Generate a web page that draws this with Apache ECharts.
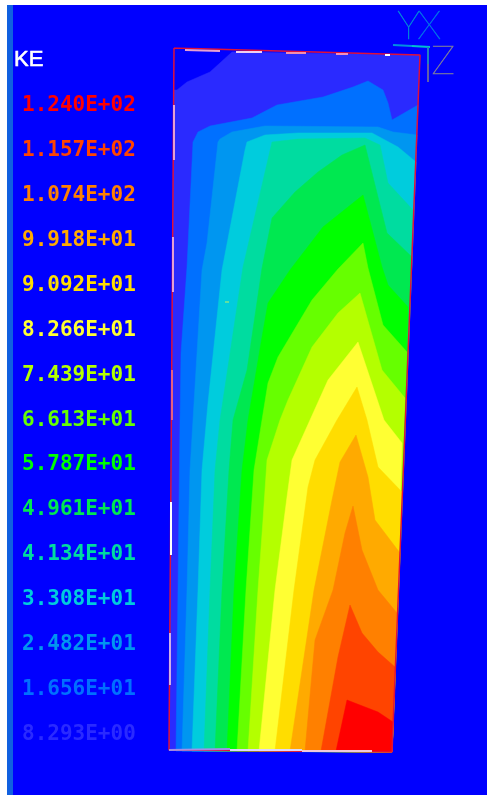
<!DOCTYPE html>
<html><head><meta charset="utf-8">
<style>
html,body{margin:0;padding:0;background:#fff;overflow:hidden}
#bg{position:absolute;left:7px;top:5px;width:480px;height:790px;box-sizing:border-box;background:#0000ff;border-left:6px solid #1060e0}
#c{position:absolute;left:0;top:0;width:487px;height:795px;filter:blur(0.5px)}
</style>
<script src="https://cdn.jsdelivr.net/npm/echarts@6/dist/echarts.min.js"></script>
</head><body><div id="bg"></div><div id="c"></div>
<script>
// Colour-key tick labels, highest first
const tickLabels=['1.240E+02','1.157E+02','1.074E+02','9.918E+01','9.092E+01','8.266E+01','7.439E+01','6.613E+01','5.787E+01','4.961E+01','4.134E+01','3.308E+01','2.482E+01','1.656E+01','8.293E+00'];
const tickColors=['#ff0000','#ff4400','#ff8000','#ffaa00','#ffdd00','#ffff33','#b4ff00','#66ff00','#00ff00','#00e850','#00dca0','#00ccdd','#0096f0','#0070ff','#2a2aff'];
// Mesh outline
const outline=[[174,48],[420,55],[392,752],[169,750]];
// Contour boundaries KE = level (right edge -> apex -> bottom edge)
const c008=[[177,90],[187,82],[210,72],[232,52],[420,55],[392,752],[169,750],[174,90]];
const c016=[[418,105],[392,120],[388,103],[383,90],[368,81],[353,87],[323,97],[277,105],[252,118],[210,126],[198,132],[193,142],[187,267],[181,353],[180,420],[178,587],[176,751]];
const c024=[[417,135],[393,132],[378,127],[265,126],[232,132],[220,139],[218,142],[207,243],[202,270],[193,420],[190,470],[187,590],[182,751]];
const c033=[[416,162],[398,147],[372,133],[298,133],[265,135],[247,142],[245,150],[222,270],[208,403],[202,470],[198,590],[192,751]];
const c041=[[413,210],[388,183],[380,145],[365,138],[298,139],[272,142],[243,267],[220,420],[215,470],[210,590],[204,751]];
const c049=[[412,257],[387,233],[365,145],[342,155],[318,172],[295,192],[272,218],[262,268],[247,370],[233,420],[229,470],[222,590],[215,751]];
const c057=[[408,307],[388,285],[382,267],[363,195],[323,227],[290,270],[268,303],[262,337],[248,420],[242,470],[234,590],[227,751]];
const c066=[[407,352],[383,325],[368,268],[363,243],[338,269],[312,300],[278,357],[268,383],[262,420],[254,470],[246,590],[237,751]];
const c074=[[405,398],[382,370],[360,293],[338,313],[312,347],[288,400],[280,420],[267,460],[263,520],[258,590],[248,751]];
const c082=[[402,443],[384,420],[358,342],[328,380],[310,420],[292,460],[287,497],[275,590],[259,751]];
const c090=[[402,492],[378,467],[367,420],[357,387],[337,420],[315,460],[308,487],[294,590],[275,751]];
const c099=[[400,553],[375,520],[368,477],[356,435],[340,462],[332,500],[314,590],[290,751]];
const c107=[[397,613],[378,590],[362,550],[353,506],[345,533],[333,590],[315,640],[305,751]];
const c115=[[395,667],[378,652],[362,633],[350,605],[338,657],[321,751]];
const c124=[[393,722],[378,712],[365,707],[347,700],[336,751]];
const contours=[c008,c016,c024,c033,c041,c049,c057,c066,c074,c082,c090,c099,c107,c115,c124];
const bandColors=tickColors.slice().reverse();
// Pale highlighted mesh edge pieces
const edgeMarks=[
 [[185,50],[220,51]],[[236,52],[262,52]],[[286,53],[306,53]],[[336,54],[348,54]],[[385,55],[390,55]],
 [[174,105],[174,160]],[[173,237],[173,292]],[[172,370],[172,420]],[[171,502],[171,555]],[[170,633],[170,685]],
 [[169,750],[230,749]],[[230,750],[302,750]],[[302,751],[372,751]],[[225,302],[229,302]]
];
const edgeColors=['#e8a0d0','#f0d0f0','#f090b0','#f090c0','#ffffff','#e8a0d0','#e8a0d0','#e86080','#ffffff','#d0b0e8','#a090e8','#e0d8f8','#f0c8d8','#60e0a0'];
// Result-triad strokes
const triad=[
 {p:[[393,45],[412,46]],c:'#0090e0'},{p:[[412,46],[430,47]],c:'#00c0d0'},
 {p:[[428,47],[428,64]],c:'#2080c0'},{p:[[428,64],[428,82]],c:'#6060a8'}
];

const option={
 animation:false,
 title:{text:'KE',left:14,top:49,padding:0,textStyle:{color:'#fff',fontFamily:'Liberation Sans',fontSize:22,fontWeight:'normal',textBorderColor:'#fff',textBorderWidth:0.6}},
 grid:[
  {left:169,top:48,right:67,bottom:43,show:false},
  {left:22,top:83.6,width:130,height:673,show:false}
 ],
 xAxis:[
  {gridIndex:0,type:'value',min:169,max:420,show:false},
  {gridIndex:1,type:'value',min:0,max:1,show:false}
 ],
 yAxis:[
  {gridIndex:0,type:'value',min:48,max:752,inverse:true,show:false},
  {gridIndex:1,type:'category',data:tickLabels,inverse:true,axisLine:{show:false},axisTick:{show:false},
   axisLabel:{inside:true,margin:0,align:'left',fontFamily:'DejaVu Sans Mono',fontWeight:'bold',fontSize:21,color:(v,i)=>tickColors[i]}}
 ],
 series:[
  {type:'custom',coordinateSystem:'cartesian2d',xAxisIndex:0,yAxisIndex:0,clip:false,silent:true,
   data:contours.map((c,i)=>[i]),encode:{x:-1,y:-1},
   renderItem:(params,api)=>{
     const i=params.dataIndex;
     const pts=i===0?contours[0]:contours[i].concat([[392,752]]);
     return {type:'polygon',shape:{points:pts.map(p=>api.coord(p))},style:{fill:bandColors[i],stroke:bandColors[i],lineWidth:0.5}};
   }},
  {type:'line',xAxisIndex:0,yAxisIndex:0,data:outline.concat([outline[0]]),symbol:'none',silent:true,z:5,
   lineStyle:{color:'#e0103a',width:1.5}},
  {type:'custom',coordinateSystem:'cartesian2d',xAxisIndex:0,yAxisIndex:0,clip:false,silent:true,z:6,
   data:edgeMarks.map((m,i)=>[i]),encode:{x:-1,y:-1},
   renderItem:(params,api)=>{
     const m=edgeMarks[params.dataIndex];
     return {type:'polyline',shape:{points:m.map(p=>api.coord(p))},style:{stroke:edgeColors[params.dataIndex],lineWidth:2,fill:null}};
   }},
  {type:'custom',coordinateSystem:'cartesian2d',xAxisIndex:0,yAxisIndex:0,clip:false,silent:true,z:6,
   data:triad.map((m,i)=>[i]),encode:{x:-1,y:-1},
   renderItem:(params,api)=>{
     const m=triad[params.dataIndex];
     return {type:'polyline',shape:{points:m.p.map(p=>api.coord(p))},style:{stroke:m.c,lineWidth:2,fill:null}};
   }}
 ],
 graphic:[
  {type:'text',left:397,top:6,style:{text:'Y',fill:'#0088d8',stroke:'#0088d8',lineWidth:0.6,fontFamily:'Lato',fontWeight:100,fontSize:40}},
  {type:'text',left:417,top:6,style:{text:'X',fill:'#0070e8',stroke:'#0070e8',lineWidth:0.6,fontFamily:'Lato',fontWeight:100,fontSize:40}},
  {type:'text',left:431,top:41,style:{text:'Z',fill:'#7878a0',stroke:'#7878a0',lineWidth:0.6,fontFamily:'Lato',fontWeight:100,fontSize:40}}
 ]
};
echarts.init(document.getElementById('c'),null,{renderer:'canvas'}).setOption(option);
</script></body></html>
